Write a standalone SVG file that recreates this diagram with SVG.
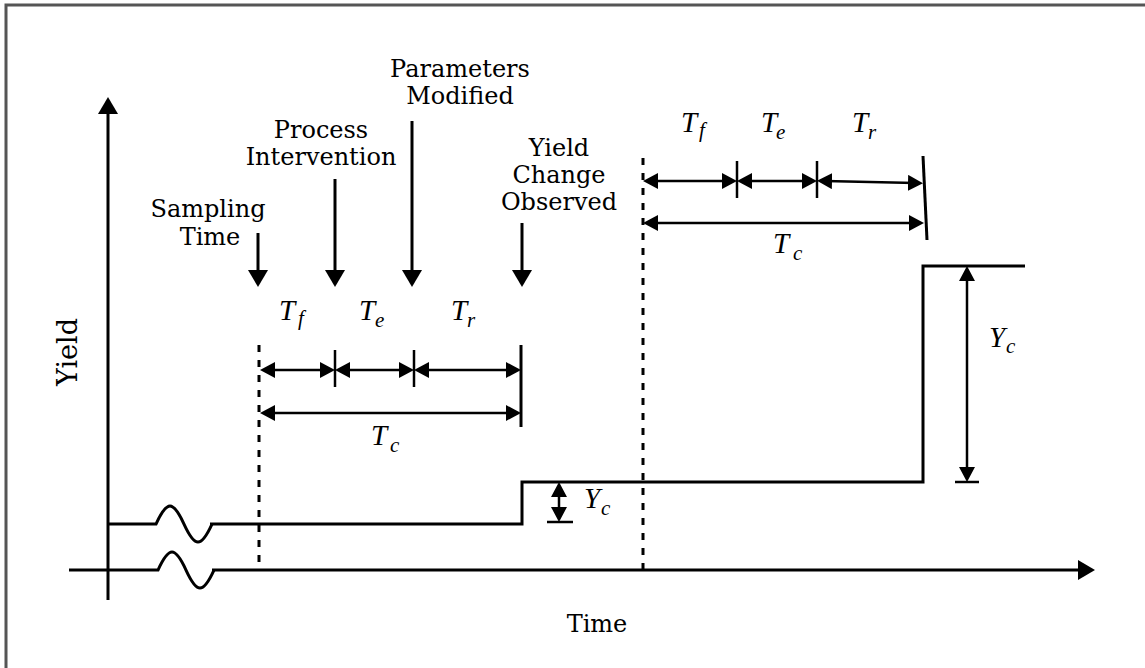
<svg xmlns="http://www.w3.org/2000/svg" width="1145" height="668" viewBox="0 0 1145 668">
<style>
.ln{fill:none;stroke:#000;stroke-width:3}
.dm{fill:none;stroke:#000;stroke-width:2.5}
.dot{fill:none;stroke:#000;stroke-width:3;stroke-dasharray:7 8}
.lbl{font-family:"DejaVu Serif","Liberation Serif",serif;font-size:24px;fill:#000;text-anchor:middle}
.ax{font-family:"DejaVu Serif","Liberation Serif",serif;font-size:27px;fill:#000;text-anchor:middle}
.m{font-family:"Liberation Serif","DejaVu Serif",serif;font-style:italic;font-size:29px;fill:#000}
.s{font-size:21px}
</style>
<defs>
<marker id="ah" markerUnits="userSpaceOnUse" markerWidth="16" markerHeight="16" refX="7" refY="8" orient="auto-start-reverse" viewBox="0 0 16 16">
<path d="M0,0 L15,8 L0,16 z" fill="#000"/>
</marker>
<marker id="big" markerUnits="userSpaceOnUse" markerWidth="18" markerHeight="20" refX="8" refY="10" orient="auto-start-reverse" viewBox="0 0 18 20">
<path d="M0,0 L17,10 L0,20 z" fill="#000"/>
</marker>
</defs>
<rect x="0" y="0" width="1145" height="668" fill="#fff"/>
<rect x="6" y="5" width="1200" height="700" fill="none" stroke="#555" stroke-width="3"/>

<g id="axes">
<line class="ln" x1="108" y1="600" x2="108" y2="106" marker-end="url(#big)"/>
<path class="ln" d="M69,570 H158 C169,546 175,546 186,570 C197,594 203,594 214,570"/>
<line class="ln" x1="212" y1="570" x2="1086" y2="570" marker-end="url(#big)"/>
<text class="ax" transform="translate(77,352) rotate(-90)">Yield</text>
<text class="lbl" x="597" y="632">Time</text>
</g>

<g id="yield-curve">
<path class="ln" d="M108,524 H156 C167,500 173,500 184,524 C195,548 201,548 212,524"/>
<path class="ln" d="M210,524 H522 V482 H923 V266 H1025"/>
</g>

<g id="markers">
<line class="dot" x1="259" y1="345" x2="259" y2="570"/>
<line class="dot" x1="643" y1="158" x2="643" y2="570"/>
</g>

<g id="sampling-time">
<text class="lbl" x="208" y="217">Sampling</text>
<text class="lbl" x="210" y="245">Time</text>
</g>
<g id="process-intervention">
<text class="lbl" x="321" y="138">Process</text>
<text class="lbl" x="321" y="165">Intervention</text>
</g>
<g id="parameters-modified">
<text class="lbl" x="460" y="77">Parameters</text>
<text class="lbl" x="460" y="104">Modified</text>
</g>
<g id="yield-change-observed">
<text class="lbl" x="559" y="156">Yield</text>
<text class="lbl" x="559" y="183">Change</text>
<text class="lbl" x="559" y="210">Observed</text>
</g>

<g id="connectors">
<line class="ln" x1="258" y1="233" x2="258" y2="278" marker-end="url(#big)"/>
<line class="ln" x1="335" y1="179" x2="335" y2="278" marker-end="url(#big)"/>
<line class="ln" x1="412" y1="121" x2="412" y2="278" marker-end="url(#big)"/>
<line class="ln" x1="522" y1="223" x2="522" y2="278" marker-end="url(#big)"/>
</g>

<g id="bracket-1">
<line class="dm" x1="268" y1="370" x2="327" y2="370" marker-start="url(#ah)" marker-end="url(#ah)"/>
<line class="dm" x1="343" y1="370" x2="406" y2="370" marker-start="url(#ah)" marker-end="url(#ah)"/>
<line class="dm" x1="422" y1="370" x2="513" y2="370" marker-start="url(#ah)" marker-end="url(#ah)"/>
<line class="dm" x1="268" y1="413" x2="513" y2="413" marker-start="url(#ah)" marker-end="url(#ah)"/>
<line class="dm" x1="335" y1="350" x2="335" y2="387"/>
<line class="dm" x1="414" y1="350" x2="414" y2="387"/>
<line class="ln" x1="521" y1="345" x2="521" y2="427"/>
<text class="m" x="279" y="320">T<tspan class="s" x="298" y="325">f</tspan></text>
<text class="m" x="359" y="320">T<tspan class="s" x="375" y="327">e</tspan></text>
<text class="m" x="451" y="320">T<tspan class="s" x="467" y="327">r</tspan></text>
<text class="m" x="371" y="445">T<tspan class="s" x="390" y="452">c</tspan></text>
</g>

<g id="bracket-2">
<line class="dm" x1="651" y1="181" x2="729" y2="181" marker-start="url(#ah)" marker-end="url(#ah)"/>
<line class="dm" x1="745" y1="181" x2="809" y2="181" marker-start="url(#ah)" marker-end="url(#ah)"/>
<line class="dm" x1="825" y1="181" x2="915" y2="183" marker-start="url(#ah)" marker-end="url(#ah)"/>
<line class="dm" x1="651" y1="223" x2="916" y2="223" marker-start="url(#ah)" marker-end="url(#ah)"/>
<line class="dm" x1="737" y1="161" x2="737" y2="198"/>
<line class="dm" x1="817" y1="161" x2="817" y2="198"/>
<line class="ln" x1="923" y1="156" x2="927" y2="240"/>
<text class="m" x="681" y="132">T<tspan class="s" x="699" y="137">f</tspan></text>
<text class="m" x="761" y="132">T<tspan class="s" x="776" y="139">e</tspan></text>
<text class="m" x="852" y="132">T<tspan class="s" x="868" y="139">r</tspan></text>
<text class="m" x="773" y="253">T<tspan class="s" x="793" y="260">c</tspan></text>
</g>

<g id="yc-small">
<line class="dm" x1="559" y1="490" x2="559" y2="514" marker-start="url(#ah)" marker-end="url(#ah)"/>
<line class="dm" x1="547" y1="522" x2="573" y2="522"/>
<text class="m" x="584" y="508">Y<tspan class="s" x="601" y="515">c</tspan></text>
</g>

<g id="yc-large">
<line class="dm" x1="967" y1="274" x2="967" y2="474" marker-start="url(#ah)" marker-end="url(#ah)"/>
<line class="dm" x1="955" y1="482" x2="979" y2="482"/>
<text class="m" x="989" y="347">Y<tspan class="s" x="1006" y="353">c</tspan></text>
</g>
</svg>
